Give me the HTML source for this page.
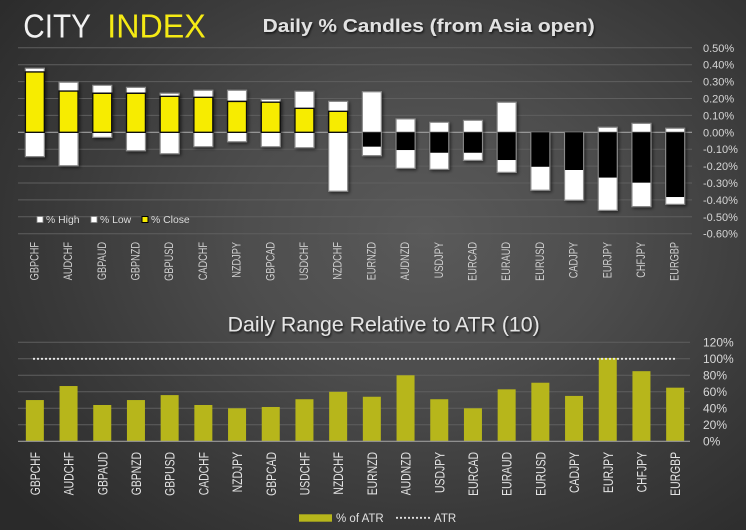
<!DOCTYPE html>
<html>
<head>
<meta charset="utf-8">
<style>
html,body{margin:0;padding:0;width:746px;height:530px;overflow:hidden;}
body{background:radial-gradient(ellipse 72% 78% at 57% 44%, #5a5a5a 0%, #4d4d4d 35%, #3a3a3a 68%, #2a2a2a 100%);font-family:"Liberation Sans",sans-serif;}
svg{display:block;}
.w{fill:#fff;stroke:#8a8a8a;stroke-width:1.2px;vector-effect:non-scaling-stroke;}
.y{fill:#f7ec00;stroke:#111;stroke-width:1.4px;vector-effect:non-scaling-stroke;}
.b{fill:#000;}
.g{stroke:#5f5f5f;stroke-width:1;}
.yl{font-size:11px;fill:#d6d6d6;}
.yl2{font-size:12px;fill:#d8d8d8;}
.xl{font-size:11.5px;fill:#cfcfcf;text-anchor:end;}
.xl2{font-size:13.5px;fill:#e2e2e2;text-anchor:end;}
.lg{font-size:10.4px;fill:#dcdcdc;}
.at{fill:#b7b61b;}
</style>
</head>
<body>
<svg width="746" height="530" viewBox="0 0 746 530" xmlns="http://www.w3.org/2000/svg">
<defs>
<filter id="bs" x="-20%" y="-20%" width="140%" height="140%">
<feDropShadow dx="1.5" dy="1.5" stdDeviation="1.5" flood-color="#000" flood-opacity="0.55"/>
</filter>
<filter id="ts" x="-5%" y="-30%" width="110%" height="160%">
<feDropShadow dx="1" dy="1.5" stdDeviation="1" flood-color="#000" flood-opacity="0.7"/>
</filter>
</defs>

<!-- Logo -->
<text x="23.3" y="37.7" font-size="33" fill="#f2f2f2" textLength="67.7" lengthAdjust="spacingAndGlyphs">CITY</text>
<text x="107.3" y="37.7" font-size="33" fill="#f5ea14" textLength="98.4" lengthAdjust="spacingAndGlyphs">INDEX</text>

<!-- Top title -->
<text x="262.7" y="32" font-size="18.5" font-weight="bold" fill="#e2e2e2" filter="url(#ts)" textLength="332" lengthAdjust="spacingAndGlyphs">Daily % Candles (from Asia open)</text>

<!-- Top gridlines -->
<g class="g">
<line x1="18" x2="692" y1="47.8" y2="47.8"/>
<line x1="18" x2="692" y1="64.7" y2="64.7"/>
<line x1="18" x2="692" y1="81.6" y2="81.6"/>
<line x1="18" x2="692" y1="98.5" y2="98.5"/>
<line x1="18" x2="692" y1="115.4" y2="115.4"/>
<line x1="18" x2="692" y1="149.2" y2="149.2"/>
<line x1="18" x2="692" y1="166.1" y2="166.1"/>
<line x1="18" x2="692" y1="183.0" y2="183.0"/>
<line x1="18" x2="692" y1="199.9" y2="199.9"/>
<line x1="18" x2="692" y1="216.8" y2="216.8"/>
<line x1="18" x2="692" y1="233.7" y2="233.7"/>
</g>
<line x1="18" x2="692" y1="132.3" y2="132.3" stroke="#a0a0a0" stroke-width="1.2"/>

<!-- Top bars -->
<g filter="url(#bs)">
<g transform="translate(34.85,132.3) scale(1,-169)"><rect class="w" x="-9.5" y="0" width="19" height="0.379"/><rect class="w" x="-9.5" y="-0.144" width="19" height="0.144"/><rect class="y" x="-9.5" y="0" width="19" height="0.357"/></g>
<g transform="translate(68.55,132.3) scale(1,-169)"><rect class="w" x="-9.5" y="0" width="19" height="0.296"/><rect class="w" x="-9.5" y="-0.198" width="19" height="0.198"/><rect class="y" x="-9.5" y="0" width="19" height="0.244"/></g>
<g transform="translate(102.25,132.3) scale(1,-169)"><rect class="w" x="-9.5" y="0" width="19" height="0.278"/><rect class="w" x="-9.5" y="-0.030" width="19" height="0.030"/><rect class="y" x="-9.5" y="0" width="19" height="0.231"/></g>
<g transform="translate(135.95,132.3) scale(1,-169)"><rect class="w" x="-9.5" y="0" width="19" height="0.266"/><rect class="w" x="-9.5" y="-0.109" width="19" height="0.109"/><rect class="y" x="-9.5" y="0" width="19" height="0.231"/></g>
<g transform="translate(169.65,132.3) scale(1,-169)"><rect class="w" x="-9.5" y="0" width="19" height="0.231"/><rect class="w" x="-9.5" y="-0.127" width="19" height="0.127"/><rect class="y" x="-9.5" y="0" width="19" height="0.213"/></g>
<g transform="translate(203.35,132.3) scale(1,-169)"><rect class="w" x="-9.5" y="0" width="19" height="0.249"/><rect class="w" x="-9.5" y="-0.085" width="19" height="0.085"/><rect class="y" x="-9.5" y="0" width="19" height="0.207"/></g>
<g transform="translate(237.05,132.3) scale(1,-169)"><rect class="w" x="-9.5" y="0" width="19" height="0.249"/><rect class="w" x="-9.5" y="-0.056" width="19" height="0.056"/><rect class="y" x="-9.5" y="0" width="19" height="0.183"/></g>
<g transform="translate(270.75,132.3) scale(1,-169)"><rect class="w" x="-9.5" y="0" width="19" height="0.195"/><rect class="w" x="-9.5" y="-0.085" width="19" height="0.085"/><rect class="y" x="-9.5" y="0" width="19" height="0.178"/></g>
<g transform="translate(304.45,132.3) scale(1,-169)"><rect class="w" x="-9.5" y="0" width="19" height="0.243"/><rect class="w" x="-9.5" y="-0.091" width="19" height="0.091"/><rect class="y" x="-9.5" y="0" width="19" height="0.142"/></g>
<g transform="translate(338.15,132.3) scale(1,-169)"><rect class="w" x="-9.5" y="0" width="19" height="0.183"/><rect class="w" x="-9.5" y="-0.349" width="19" height="0.349"/><rect class="y" x="-9.5" y="0" width="19" height="0.124"/></g>
<g transform="translate(371.85,132.3) scale(1,-169)"><rect class="w" x="-9.5" y="0" width="19" height="0.240"/><rect class="w" x="-9.5" y="-0.138" width="19" height="0.138"/><rect class="b" x="-9" y="-0.085" width="18" height="0.085"/></g>
<g transform="translate(405.55,132.3) scale(1,-169)"><rect class="w" x="-9.5" y="0" width="19" height="0.079"/><rect class="w" x="-9.5" y="-0.213" width="19" height="0.213"/><rect class="b" x="-9" y="-0.105" width="18" height="0.105"/></g>
<g transform="translate(439.25,132.3) scale(1,-169)"><rect class="w" x="-9.5" y="0" width="19" height="0.059"/><rect class="w" x="-9.5" y="-0.219" width="19" height="0.219"/><rect class="b" x="-9" y="-0.121" width="18" height="0.121"/></g>
<g transform="translate(472.95,132.3) scale(1,-169)"><rect class="w" x="-9.5" y="0" width="19" height="0.071"/><rect class="w" x="-9.5" y="-0.166" width="19" height="0.166"/><rect class="b" x="-9" y="-0.121" width="18" height="0.121"/></g>
<g transform="translate(506.65,132.3) scale(1,-169)"><rect class="w" x="-9.5" y="0" width="19" height="0.178"/><rect class="w" x="-9.5" y="-0.237" width="19" height="0.237"/><rect class="b" x="-9" y="-0.164" width="18" height="0.164"/></g>
<g transform="translate(540.35,132.3) scale(1,-169)"><rect class="w" x="-9.5" y="-0.343" width="19" height="0.343"/><rect class="b" x="-9" y="-0.204" width="18" height="0.204"/></g>
<g transform="translate(574.05,132.3) scale(1,-169)"><rect class="w" x="-9.5" y="-0.402" width="19" height="0.402"/><rect class="b" x="-9" y="-0.223" width="18" height="0.223"/></g>
<g transform="translate(607.75,132.3) scale(1,-169)"><rect class="w" x="-9.5" y="0" width="19" height="0.030"/><rect class="w" x="-9.5" y="-0.462" width="19" height="0.462"/><rect class="b" x="-9" y="-0.268" width="18" height="0.268"/></g>
<g transform="translate(641.45,132.3) scale(1,-169)"><rect class="w" x="-9.5" y="0" width="19" height="0.053"/><rect class="w" x="-9.5" y="-0.440" width="19" height="0.440"/><rect class="b" x="-9" y="-0.298" width="18" height="0.298"/></g>
<g transform="translate(675.15,132.3) scale(1,-169)"><rect class="w" x="-9.5" y="0" width="19" height="0.024"/><rect class="w" x="-9.5" y="-0.426" width="19" height="0.426"/><rect class="b" x="-9" y="-0.383" width="18" height="0.383"/></g>
</g>

<!-- Top y labels -->
<g class="yl">
<text x="703" y="51.8">0.50%</text>
<text x="703" y="68.7">0.40%</text>
<text x="703" y="85.6">0.30%</text>
<text x="703" y="102.5">0.20%</text>
<text x="703" y="119.4">0.10%</text>
<text x="703" y="136.3">0.00%</text>
<text x="703" y="153.2">-0.10%</text>
<text x="703" y="170.1">-0.20%</text>
<text x="703" y="187.0">-0.30%</text>
<text x="703" y="203.9">-0.40%</text>
<text x="703" y="220.8">-0.50%</text>
<text x="703" y="237.7">-0.60%</text>
</g>

<!-- Top legend -->
<rect x="37" y="216.5" width="6" height="6" fill="#fff" stroke="#888" stroke-width="0.8"/>
<text class="lg" x="46" y="223">% High</text>
<rect x="91" y="216.5" width="6" height="6" fill="#fff" stroke="#888" stroke-width="0.8"/>
<text class="lg" x="100" y="223">% Low</text>
<rect x="142" y="216.5" width="6" height="6" fill="#f7ec00" stroke="#000" stroke-width="1"/>
<text class="lg" x="151" y="223">% Close</text>

<!-- Top x labels -->
<g class="xl">
<text transform="translate(38.35,242) rotate(-90) scale(0.8,1)">GBPCHF</text>
<text transform="translate(72.05,242) rotate(-90) scale(0.8,1)">AUDCHF</text>
<text transform="translate(105.75,242) rotate(-90) scale(0.8,1)">GBPAUD</text>
<text transform="translate(139.45,242) rotate(-90) scale(0.8,1)">GBPNZD</text>
<text transform="translate(173.15,242) rotate(-90) scale(0.8,1)">GBPUSD</text>
<text transform="translate(206.85,242) rotate(-90) scale(0.8,1)">CADCHF</text>
<text transform="translate(240.55,242) rotate(-90) scale(0.8,1)">NZDJPY</text>
<text transform="translate(274.25,242) rotate(-90) scale(0.8,1)">GBPCAD</text>
<text transform="translate(307.95,242) rotate(-90) scale(0.8,1)">USDCHF</text>
<text transform="translate(341.65,242) rotate(-90) scale(0.8,1)">NZDCHF</text>
<text transform="translate(375.35,242) rotate(-90) scale(0.8,1)">EURNZD</text>
<text transform="translate(409.05,242) rotate(-90) scale(0.8,1)">AUDNZD</text>
<text transform="translate(442.75,242) rotate(-90) scale(0.8,1)">USDJPY</text>
<text transform="translate(476.45,242) rotate(-90) scale(0.8,1)">EURCAD</text>
<text transform="translate(510.15,242) rotate(-90) scale(0.8,1)">EURAUD</text>
<text transform="translate(543.85,242) rotate(-90) scale(0.8,1)">EURUSD</text>
<text transform="translate(577.55,242) rotate(-90) scale(0.8,1)">CADJPY</text>
<text transform="translate(611.25,242) rotate(-90) scale(0.8,1)">EURJPY</text>
<text transform="translate(644.95,242) rotate(-90) scale(0.8,1)">CHFJPY</text>
<text transform="translate(678.65,242) rotate(-90) scale(0.8,1)">EURGBP</text>
</g>

<!-- Bottom title -->
<text x="227.7" y="331.7" font-size="21" fill="#e4e4e4" filter="url(#ts)" textLength="312" lengthAdjust="spacingAndGlyphs">Daily Range Relative to ATR (10)</text>

<!-- Bottom gridlines -->
<g class="g">
<line x1="18" x2="690" y1="342.3" y2="342.3"/>
<line x1="18" x2="690" y1="358.8" y2="358.8"/>
<line x1="18" x2="690" y1="375.3" y2="375.3"/>
<line x1="18" x2="690" y1="391.8" y2="391.8"/>
<line x1="18" x2="690" y1="408.3" y2="408.3"/>
<line x1="18" x2="690" y1="424.8" y2="424.8"/>
</g>

<!-- Bottom bars -->
<g transform="translate(0,441.3) scale(1,-0.825)" class="at">
<rect x="25.85" y="0" width="18" height="50"/>
<rect x="59.55" y="0" width="18" height="67"/>
<rect x="93.25" y="0" width="18" height="44"/>
<rect x="126.95" y="0" width="18" height="50"/>
<rect x="160.65" y="0" width="18" height="56"/>
<rect x="194.35" y="0" width="18" height="44"/>
<rect x="228.05" y="0" width="18" height="40"/>
<rect x="261.75" y="0" width="18" height="41.6"/>
<rect x="295.45" y="0" width="18" height="51"/>
<rect x="329.15" y="0" width="18" height="60"/>
<rect x="362.85" y="0" width="18" height="54"/>
<rect x="396.55" y="0" width="18" height="80"/>
<rect x="430.25" y="0" width="18" height="51"/>
<rect x="463.95" y="0" width="18" height="40"/>
<rect x="497.65" y="0" width="18" height="63"/>
<rect x="531.35" y="0" width="18" height="71"/>
<rect x="565.05" y="0" width="18" height="55"/>
<rect x="598.75" y="0" width="18" height="101"/>
<rect x="632.45" y="0" width="18" height="85"/>
<rect x="666.15" y="0" width="18" height="65"/>
</g>
<line x1="18" x2="690" y1="441.3" y2="441.3" stroke="#9a9a9a" stroke-width="1.2"/>

<!-- ATR dotted line -->
<line x1="33" x2="675" y1="358.8" y2="358.8" stroke="#e8e8e8" stroke-width="1.8" stroke-dasharray="2 2"/>

<!-- Bottom y labels -->
<g class="yl2">
<text x="703" y="346.6">120%</text>
<text x="703" y="363.1">100%</text>
<text x="703" y="379.6">80%</text>
<text x="703" y="396.1">60%</text>
<text x="703" y="412.6">40%</text>
<text x="703" y="429.1">20%</text>
<text x="703" y="445.6">0%</text>
</g>

<!-- Bottom x labels -->
<g class="xl2">
<text transform="translate(39.85,452) rotate(-90) scale(0.77,1)">GBPCHF</text>
<text transform="translate(73.55,452) rotate(-90) scale(0.77,1)">AUDCHF</text>
<text transform="translate(107.25,452) rotate(-90) scale(0.77,1)">GBPAUD</text>
<text transform="translate(140.95,452) rotate(-90) scale(0.77,1)">GBPNZD</text>
<text transform="translate(174.65,452) rotate(-90) scale(0.77,1)">GBPUSD</text>
<text transform="translate(208.35,452) rotate(-90) scale(0.77,1)">CADCHF</text>
<text transform="translate(242.05,452) rotate(-90) scale(0.77,1)">NZDJPY</text>
<text transform="translate(275.75,452) rotate(-90) scale(0.77,1)">GBPCAD</text>
<text transform="translate(309.45,452) rotate(-90) scale(0.77,1)">USDCHF</text>
<text transform="translate(343.15,452) rotate(-90) scale(0.77,1)">NZDCHF</text>
<text transform="translate(376.85,452) rotate(-90) scale(0.77,1)">EURNZD</text>
<text transform="translate(410.55,452) rotate(-90) scale(0.77,1)">AUDNZD</text>
<text transform="translate(444.25,452) rotate(-90) scale(0.77,1)">USDJPY</text>
<text transform="translate(477.95,452) rotate(-90) scale(0.77,1)">EURCAD</text>
<text transform="translate(511.65,452) rotate(-90) scale(0.77,1)">EURAUD</text>
<text transform="translate(545.35,452) rotate(-90) scale(0.77,1)">EURUSD</text>
<text transform="translate(579.05,452) rotate(-90) scale(0.77,1)">CADJPY</text>
<text transform="translate(612.75,452) rotate(-90) scale(0.77,1)">EURJPY</text>
<text transform="translate(646.45,452) rotate(-90) scale(0.77,1)">CHFJPY</text>
<text transform="translate(680.15,452) rotate(-90) scale(0.77,1)">EURGBP</text>
</g>

<!-- Bottom legend -->
<rect x="299" y="514.3" width="33" height="7.4" class="at"/>
<text x="336" y="521.8" font-size="11.5" fill="#e0e0e0">% of ATR</text>
<line x1="396" x2="432" y1="517.8" y2="517.8" stroke="#e0e0e0" stroke-width="1.8" stroke-dasharray="2 2"/>
<text x="434" y="521.8" font-size="11.5" fill="#e0e0e0">ATR</text>
</svg>
</body>
</html>
